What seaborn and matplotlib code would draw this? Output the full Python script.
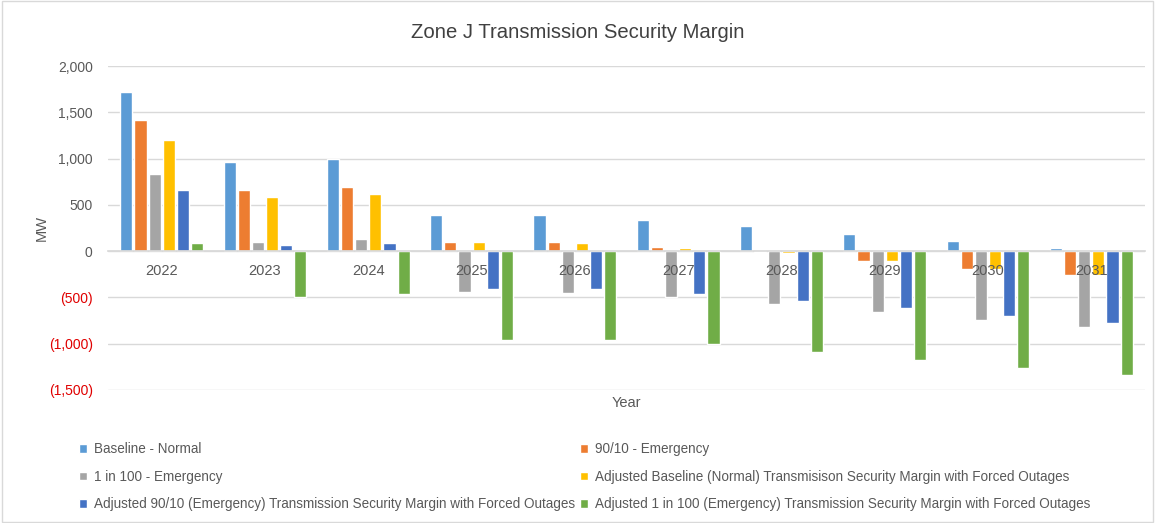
import matplotlib
matplotlib.use("Agg")
import matplotlib.pyplot as plt
import seaborn as sns
import pandas as pd
from matplotlib.patches import Rectangle

years = ["2022", "2023", "2024", "2025", "2026", "2027", "2028", "2029", "2030", "2031"]
series_names = [
    "Baseline - Normal",
    "90/10 - Emergency",
    "1 in 100 - Emergency",
    "Adjusted Baseline (Normal) Transmisison Security Margin with Forced Outages",
    "Adjusted 90/10 (Emergency) Transmission Security Margin with Forced Outages",
    "Adjusted 1 in 100 (Emergency) Transmission Security Margin with Forced Outages",
]
baseline_normal = [1719, 964, 993, 390, 390, 336, 268, 183, 107, 36]
emergency_9010 = [1414, 665, 694, 100, 100, 47, -10, -104, -190, -261]
emergency_1in100 = [835, 104, 130, -440, -447, -500, -573, -659, -745, -823]
adj_baseline = [1198, 590, 619, 100, 93, 39, -25, -104, -190, -261]
adj_9010 = [665, 65, 90, -412, -412, -465, -540, -616, -702, -780]
adj_1in100 = [90, -496, -468, -959, -959, -1006, -1088, -1174, -1260, -1335]
yticks = [-1500, -1000, -500, 0, 500, 1000, 1500, 2000]

colors = ["#5B9BD5", "#ED7D31", "#A5A5A5", "#FFC000", "#4472C4", "#70AD47"]

all_series = [baseline_normal, emergency_9010, emergency_1in100, adj_baseline, adj_9010, adj_1in100]
rows = []
for name, vals in zip(series_names, all_series):
    for y, v in zip(years, vals):
        rows.append({"Year": y, "MW": v, "Series": name})
df = pd.DataFrame(rows)

sns.set_theme(style="white")
plt.rcParams["font.family"] = ["Liberation Sans", "DejaVu Sans"]

fig = plt.figure(figsize=(11.55, 5.23), dpi=100)
ax = fig.add_axes([108 / 1155, 1 - 390 / 523, (1145 - 108) / 1155, (390 - 66) / 523])

sns.barplot(data=df, x="Year", y="MW", hue="Series", order=years, hue_order=series_names,
            palette=colors, errorbar=None, width=0.82, gap=0.14, ax=ax, saturation=1)

handles, labels = ax.get_legend_handles_labels()
ax.get_legend().remove()

ax.set_ylim(-1500, 2000)
ax.set_xlim(-0.52, len(years) - 0.48)
ax.set_yticks(yticks, [f"({abs(v):,})" if v < 0 else f"{v:,}" for v in yticks])
for lbl, v in zip(ax.get_yticklabels(), yticks):
    lbl.set_color("#E00000" if v < 0 else "#595959")
ax.tick_params(axis="y", length=0, pad=11, labelsize=10)
ax.tick_params(axis="x", length=0, pad=9, labelsize=10.5, labelcolor="#595959")

ax.yaxis.grid(True, color="#D9D9D9", linewidth=1)
ax.set_axisbelow(True)
ax.xaxis.set_zorder(3)
for s in ["top", "right", "left"]:
    ax.spines[s].set_visible(False)
ax.spines["bottom"].set_position(("data", 0))
ax.spines["bottom"].set_color("#D9D9D9")

ax.set_ylabel("MW", fontsize=10.5, color="#595959")
ax.yaxis.set_label_coords(-0.057, 0.5)
ax.set_xlabel("Year", fontsize=10.5, color="#595959")
ax.xaxis.set_label_coords(0.5, -0.02)

fig.suptitle("Zone J Transmission Security Margin", y=1 - 32 / 523, va="center",
             fontsize=14.6, color="#404040")

order = [0, 2, 4, 1, 3, 5]
leg = fig.legend([handles[i] for i in order], [labels[i] for i in order], ncol=2,
                 loc="upper left", bbox_to_anchor=(67 / 1155, 1 - 430 / 523),
                 frameon=False, fontsize=9.75, handlelength=0.6, handleheight=0.6,
                 handletextpad=0.5, columnspacing=0.35, labelspacing=1.0)
for t in leg.get_texts():
    t.set_color("#595959")

fig.patches.append(Rectangle((0.002, 0.002), 0.996, 0.996, transform=fig.transFigure,
                             fill=False, edgecolor="#D9D9D9", linewidth=1))

fig.savefig("out.png", dpi=100)
